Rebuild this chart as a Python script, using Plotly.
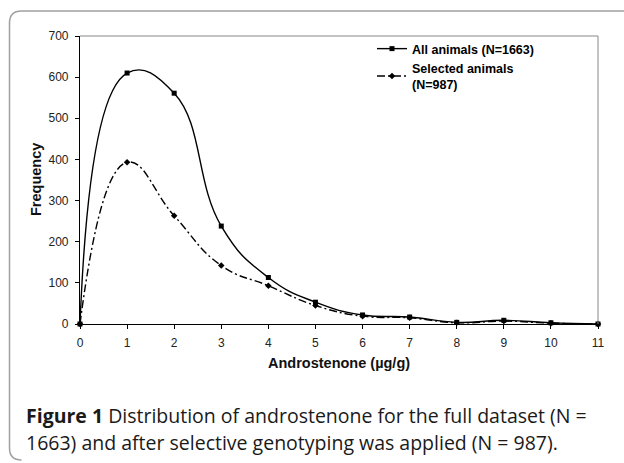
import plotly.graph_objects as go

x_vals = [0, 1, 2, 3, 4, 5, 6, 7, 8, 9, 10, 11]
all_animals = [0, 610, 561, 238, 113, 53, 22, 17, 4, 9, 3, 0]
selected_animals = [0, 393, 263, 142, 93, 45, 19, 15, 3, 7, 2, 0]
x_ticks = list(range(0, 12))
y_ticks = list(range(0, 701, 100))

W, H = 624, 463
L, R, T, B = 80, 26, 36, 139
pw, ph = W - L - R, H - T - B

def px(x):
    return (x - L) / pw

def py(y):
    return (H - B - y) / ph

fig = go.Figure()
fig.add_trace(go.Scatter(
    x=x_vals, y=all_animals, mode="lines+markers", name="All animals (N=1663)",
    line=dict(color="black", width=1.4, shape="spline", smoothing=1.3),
    marker=dict(symbol="square", size=5, color="black"), cliponaxis=False))
fig.add_trace(go.Scatter(
    x=x_vals, y=selected_animals, mode="lines+markers", name="Selected animals<br>(N=987)",
    line=dict(color="black", width=1.4, shape="spline", smoothing=1.3, dash="8px,3px,2px,3px"),
    marker=dict(symbol="diamond", size=5, color="black"), cliponaxis=False))

tick_font = dict(family="Liberation Sans, Arial", size=12, color="#222")
title_font = dict(family="Liberation Sans, Arial", size=14.5, color="#111", weight="bold")
fig.update_xaxes(range=[0, 11], tickvals=x_ticks, showgrid=False, zeroline=False,
                 showline=True, linecolor="black", linewidth=1.2, ticks="outside",
                 ticklen=4, tickcolor="black", tickfont=tick_font, automargin=False,
                 ticklabelstandoff=3)
fig.update_yaxes(range=[0, 700], tickvals=y_ticks, showgrid=False, zeroline=False,
                 showline=True, linecolor="black", linewidth=1.2, ticks="outside",
                 ticklen=4, tickcolor="black", tickfont=tick_font, automargin=False,
                 ticklabelstandoff=4)

shapes = [
    dict(type="line", xref="paper", yref="paper", x0=0, x1=1, y0=1, y1=1,
         line=dict(color="#888", width=1)),
    dict(type="line", xref="paper", yref="paper", x0=1, x1=1, y0=0, y1=1,
         line=dict(color="#888", width=1)),
]
fl, ft, fb, fr, rad = 9.5, 11, 460, 660, 12
path = (f"M {px(fr)},{py(ft)} L {px(fl+rad)},{py(ft)} "
        f"Q {px(fl)},{py(ft)} {px(fl)},{py(ft+rad)} "
        f"L {px(fl)},{py(fb-rad)} Q {px(fl)},{py(fb)} {px(fl+rad)},{py(fb)}")
shapes.append(dict(type="path", xref="paper", yref="paper", path=path,
                   line=dict(color="#a0a0a0", width=1.5)))

cap_font = dict(family="Open Sans", size=19.5, color="#1a1a1a")
annotations = [
    dict(xref="paper", yref="paper", x=px(339), y=py(363), xanchor="center", yanchor="middle",
         text="Androstenone (µg/g)", showarrow=False, font=title_font),
    dict(xref="paper", yref="paper", x=px(36), y=py(180), xanchor="center", yanchor="middle",
         text="Frequency", textangle=-90, showarrow=False, font=title_font),
    dict(xref="paper", yref="paper", x=px(24), y=py(415), xanchor="left", yanchor="middle",
         text="<b>Figure 1</b> Distribution of androstenone for the full dataset (N =",
         showarrow=False, font=cap_font),
    dict(xref="paper", yref="paper", x=px(24), y=py(442), xanchor="left", yanchor="middle",
         text="1663) and after selective genotyping was applied (N = 987).",
         showarrow=False, font=cap_font),
]

fig.update_layout(
    width=W, height=H, margin=dict(l=L, r=R, t=T, b=B, autoexpand=False),
    paper_bgcolor="white", plot_bgcolor="white",
    shapes=shapes, annotations=annotations,
    legend=dict(x=px(372), y=py(34), xanchor="left", yanchor="top",
                font=dict(family="Liberation Sans, Arial", size=12.5, color="black", weight="bold"),
                bgcolor="rgba(0,0,0,0)", tracegroupgap=0, itemwidth=30),
)
fig.write_html("out.html", config={"displayModeBar": False},
               post_script="document.body.style.margin='0px';")
